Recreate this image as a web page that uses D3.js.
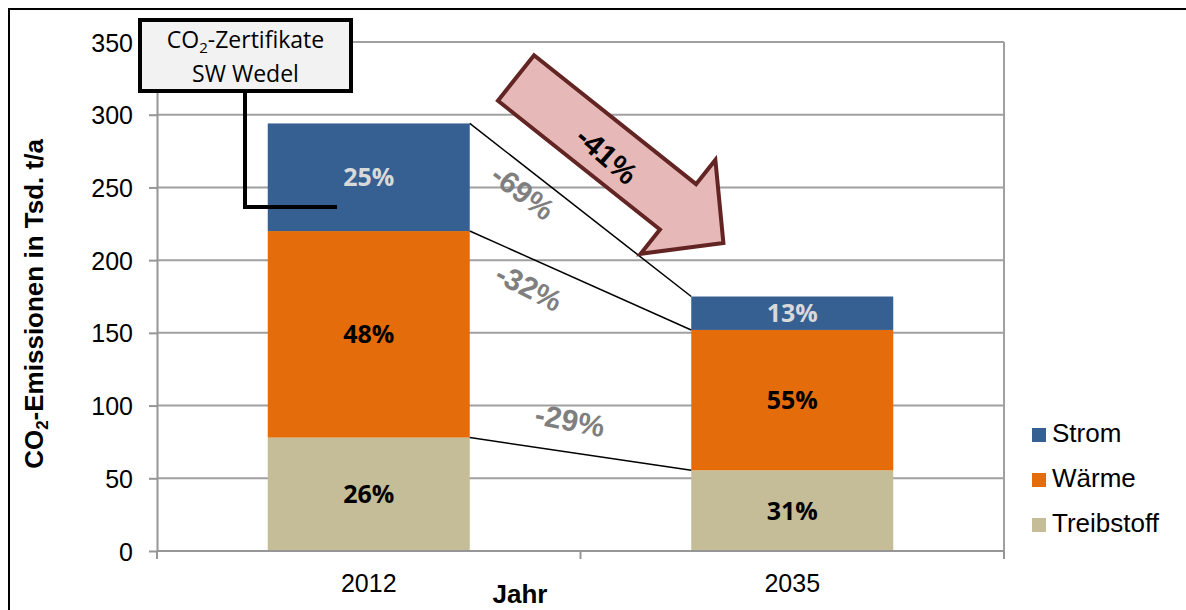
<!DOCTYPE html>
<html>
<head>
<meta charset="utf-8">
<style>
  body { margin: 0; background: #fff; }
  svg { display: block; }
  .grid line { stroke: #a0a0a0; stroke-width: 2px; }
  .axis path, .axis line { stroke: #969696; stroke-width: 2px; }
  .axis text { font-family: "Liberation Sans", Arial, sans-serif; font-size: 25px; fill: #000; }
  .calibri { font-family: "Open Sans", "Noto Sans", sans-serif; }
  .arial { font-family: "Liberation Sans", Arial, sans-serif; }
</style>
</head>
<body>
<div id="chart"></div>
<script src="https://d3js.org/d3.v7.min.js"></script>
<script>

// data (Tsd. t CO2 per year)
var years = ["2012", "2035"];
var series = ["Strom", "Wärme", "Treibstoff"];
var strom = [74, 23];
var waerme = [142, 96.5];
var treibstoff = [78, 55.5];
var stromPct = ["25%", "13%"];
var waermePct = ["48%", "55%"];
var treibPct = ["26%", "31%"];
var changeLabels = ["-69%", "-32%", "-29%"];   // Strom, Wärme, Treibstoff
var totalChange = "-41%";
var yTicks = [0, 50, 100, 150, 200, 250, 300, 350];
var colors = ["#376092", "#E46C0A", "#C4BD97"];

var W = 1186, H = 610;
var plot = {left: 157, right: 1004, top: 42, bottom: 551};

var svg = d3.select("#chart").append("svg")
    .attr("width", W)
    .attr("height", H);

// outer frame
svg.append("rect")
    .attr("x", 9).attr("y", 9)
    .attr("width", W + 20).attr("height", H + 20)
    .attr("fill", "#fff")
    .attr("stroke", "#000")
    .attr("stroke-width", 2);

var x = d3.scaleBand().domain(years)
    .range([plot.left, plot.right])
    .paddingInner(0.523).paddingOuter(0.2615);
var y = d3.scaleLinear().domain([0, 350]).range([plot.bottom, plot.top]);

// stacked data, bottom to top: Treibstoff, Wärme, Strom
var rows = years.map(function(yr, i) {
  return {year: yr, Treibstoff: treibstoff[i], "Wärme": waerme[i], Strom: strom[i]};
});
var stack = d3.stack().keys(["Treibstoff", "Wärme", "Strom"])(rows);
var colorOf = d3.scaleOrdinal().domain(series).range(colors);
var pctOf = {Strom: stromPct, "Wärme": waermePct, Treibstoff: treibPct};

// gridlines
svg.append("g").attr("class", "grid")
  .selectAll("line").data(yTicks.slice(1)).enter().append("line")
    .attr("x1", plot.left).attr("x2", plot.right)
    .attr("y1", function(d) { return y(d); })
    .attr("y2", function(d) { return y(d); });

// right border of the plot area
svg.append("line")
    .attr("x1", plot.right).attr("x2", plot.right)
    .attr("y1", plot.top).attr("y2", plot.bottom)
    .attr("stroke", "#a0a0a0").attr("stroke-width", 2);

// bars
var layer = svg.append("g").selectAll("g").data(stack).enter().append("g")
    .attr("fill", function(d) { return colorOf(d.key); });
layer.selectAll("rect").data(function(d) { return d; }).enter().append("rect")
    .attr("x", function(d) { return x(d.data.year); })
    .attr("width", x.bandwidth())
    .attr("y", function(d) { return y(d[1]); })
    .attr("height", function(d) { return y(d[0]) - y(d[1]); });

// bar labels
stack.forEach(function(s) {
  s.forEach(function(d, i) {
    svg.append("text").attr("class", "calibri")
        .attr("x", x(d.data.year) + x.bandwidth() / 2)
        .attr("y", (y(d[0]) + y(d[1])) / 2)
        .attr("dy", "0.36em")
        .attr("text-anchor", "middle")
        .attr("font-size", 25)
        .attr("font-weight", 700)
        .attr("fill", s.key === "Strom" ? "#d9d9d9" : "#000")
        .text(pctOf[s.key][i]);
  });
});

// connector lines between the stacks
var x0 = x(years[0]) + x.bandwidth(), x1 = x(years[1]);
stack.forEach(function(s) {
  svg.append("line")
      .attr("x1", x0).attr("y1", y(s[0][1]))
      .attr("x2", x1).attr("y2", y(s[1][1]))
      .attr("stroke", "#000").attr("stroke-width", 1.5);
});

// change labels (Strom, Wärme, Treibstoff)
var changePos = [
  {x: 523, y: 192, a: 37},
  {x: 529, y: 287, a: 27},
  {x: 570, y: 420, a: 11}
];
changeLabels.forEach(function(t, i) {
  svg.append("text").attr("class", "arial")
      .attr("transform", "translate(" + changePos[i].x + "," + changePos[i].y + ") rotate(" + changePos[i].a + ")")
      .attr("dy", "0.36em")
      .attr("text-anchor", "middle")
      .attr("font-size", 30)
      .attr("font-weight", "bold")
      .attr("fill", "#7f7f7f")
      .text(t);
});

// y axis
svg.append("g").attr("class", "axis")
    .attr("transform", "translate(" + plot.left + ",0)")
    .call(d3.axisLeft(y).tickValues(yTicks).tickSize(8).tickSizeOuter(0).tickPadding(16))
    .call(function(g) { g.selectAll("text").attr("dy", "0.36em"); });

// x axis
var xb = [plot.left, (x0 + x1) / 2, plot.right];
var xa = svg.append("g").attr("class", "axis");
xa.append("line")
    .attr("x1", plot.left).attr("x2", plot.right)
    .attr("y1", plot.bottom).attr("y2", plot.bottom);
xa.selectAll(".tk").data(xb).enter().append("line")
    .attr("x1", function(d) { return d; }).attr("x2", function(d) { return d; })
    .attr("y1", plot.bottom).attr("y2", plot.bottom + 8);
xa.selectAll(".yr").data(years).enter().append("text")
    .attr("x", function(d) { return x(d) + x.bandwidth() / 2; })
    .attr("y", 592)
    .attr("text-anchor", "middle")
    .attr("font-size", 26)
    .text(function(d) { return d; });

// axis titles
svg.append("text").attr("class", "arial")
    .attr("x", 520).attr("y", 603)
    .attr("text-anchor", "middle")
    .attr("font-size", 26).attr("font-weight", "bold")
    .text("Jahr");

var yt = svg.append("text").attr("class", "arial")
    .attr("transform", "translate(43,304) rotate(-90)")
    .attr("text-anchor", "middle")
    .attr("font-size", 26).attr("font-weight", "bold");
yt.append("tspan").text("CO");
yt.append("tspan").attr("font-size", 17).attr("dy", 5).text("2");
yt.append("tspan").attr("dy", -5).text("-Emissionen in Tsd. t/a");

// legend
var leg = svg.append("g").attr("transform", "translate(1032,428)");
series.forEach(function(s, i) {
  var g = leg.append("g").attr("transform", "translate(0," + (i * 45) + ")");
  g.append("rect").attr("width", 14).attr("height", 14).attr("fill", colorOf(s));
  g.append("text").attr("class", "arial")
      .attr("x", 20).attr("y", 14)
      .attr("font-size", 26)
      .text(s);
});

// reduction arrow (-41%)
var arrow = {x: 516, y: 78, angle: 38.5, len: 265, head: 58, shaft: 29, wing: 60};
var ap = [
  [0, -arrow.shaft], [arrow.len - arrow.head, -arrow.shaft], [arrow.len - arrow.head, -arrow.wing],
  [arrow.len, 0],
  [arrow.len - arrow.head, arrow.wing], [arrow.len - arrow.head, arrow.shaft], [0, arrow.shaft]
];
var ag = svg.append("g")
    .attr("transform", "translate(" + arrow.x + "," + arrow.y + ") rotate(" + arrow.angle + ")");
ag.append("path")
    .attr("d", d3.line()(ap) + "Z")
    .attr("fill", "#e6b9b8")
    .attr("stroke", "#632523")
    .attr("stroke-width", 4)
    .attr("stroke-linejoin", "miter");
svg.append("text").attr("class", "arial")
    .attr("transform", "translate(607,155) rotate(41)")
    .attr("dy", "0.36em")
    .attr("text-anchor", "middle")
    .attr("font-size", 30).attr("font-weight", "bold")
    .attr("fill", "#000")
    .text(totalChange);

// callout: CO2-Zertifikate SW Wedel
svg.append("path")
    .attr("d", "M245,92 V207 H337")
    .attr("fill", "none").attr("stroke", "#000").attr("stroke-width", 4);
svg.append("rect")
    .attr("x", 140).attr("y", 20).attr("width", 211).attr("height", 71)
    .attr("fill", "#f2f2f2").attr("stroke", "#000").attr("stroke-width", 4);
var ct = svg.append("text").attr("class", "calibri")
    .attr("x", 245.5).attr("y", 48)
    .attr("text-anchor", "middle").attr("font-size", 23);
ct.append("tspan").text("CO");
ct.append("tspan").attr("font-size", 15).attr("dy", 5).text("2");
ct.append("tspan").attr("dy", -5).text("-Zertifikate");
svg.append("text").attr("class", "calibri")
    .attr("x", 245.5).attr("y", 82)
    .attr("text-anchor", "middle").attr("font-size", 23)
    .text("SW Wedel");

</script>
</body>
</html>
